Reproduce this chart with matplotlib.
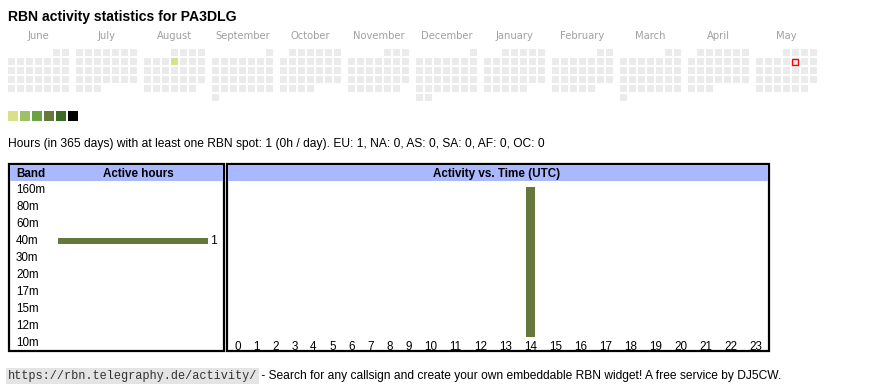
import datetime as dt
import calendar
import matplotlib
matplotlib.use('Agg')
import matplotlib.pyplot as plt
from matplotlib.patches import Rectangle

# data
callsign = 'PA3DLG'
months = [(2024, 6), (2024, 7), (2024, 8), (2024, 9), (2024, 10), (2024, 11),
          (2024, 12), (2025, 1), (2025, 2), (2025, 3), (2025, 4), (2025, 5)]
active_days = {dt.date(2024, 8, 8): 1}   # day -> level (1..6)
today = dt.date(2025, 5, 9)
level_colors = ['#ebebeb', '#d9e08a', '#9dc266', '#6aa343', '#67793a', '#3c6a27', '#000000']

bands = ['160m', '80m', '60m', '40m', '30m', '20m', '17m', '15m', '12m', '10m']
band_hours = [0, 0, 0, 1, 0, 0, 0, 0, 0, 0]
hours = [str(h) for h in range(24)]
hour_hours = [0] * 14 + [1] + [0] * 9

summary = 'Hours (in 365 days) with at least one RBN spot: 1 (0h / day). EU: 1, NA: 0, AS: 0, SA: 0, AF: 0, OC: 0'
footer_url = 'https://rbn.telegraphy.de/activity/'
footer_txt = ' - Search for any callsign and create your own embeddable RBN widget! A free service by DJ5CW.'

W, H = 870, 390
sans = 'Liberation Sans'
bar_color = '#65773a'
head_color = '#aab9ff'

fig = plt.figure(figsize=(W / 100, H / 100), dpi=100)
ax = fig.add_axes([0, 0, 1, 1])
ax.set_xlim(0, W)
ax.set_ylim(H, 0)
ax.axis('off')


def px_axes(x0, y0, x1, y1):
    a = fig.add_axes([x0 / W, 1 - y1 / H, (x1 - x0) / W, (y1 - y0) / H])
    a.patch.set_alpha(0)
    for s in a.spines.values():
        s.set_visible(False)
    return a


ax.text(8, 21, 'RBN activity statistics for ' + callsign, fontsize=10.1,
        fontweight='bold', family=sans, va='baseline')

# calendar
for k, (y, m) in enumerate(months):
    x0 = 8 + 68 * k
    ax.text(x0 + 30.5, 39, calendar.month_name[m], fontsize=7.2, color='#a0a0a0',
            ha='center', va='baseline', family='DejaVu Sans')
    first = dt.date(y, m, 1).weekday()
    for d in range(1, calendar.monthrange(y, m)[1] + 1):
        day = dt.date(y, m, d)
        col = day.weekday()
        row = (d + first - 1) // 7
        c = level_colors[active_days.get(day, 0)]
        ax.add_patch(Rectangle((x0 + 9 * col, 49 + 9 * row), 7, 7, facecolor=c, lw=0))
        if day == today:
            ax.add_patch(Rectangle((x0 + 9 * col + 0.5, 49 + 9 * row + 0.5), 6, 6,
                                   facecolor='none', edgecolor='red', lw=1))

for i, c in enumerate(level_colors[1:]):
    ax.add_patch(Rectangle((8 + 12 * i, 111), 10, 10, facecolor=c, lw=0))

ax.text(8, 147, summary, fontsize=8.64, family=sans, va='baseline')

# table frames
ax.add_patch(Rectangle((9, 164), 215, 187, facecolor='none', edgecolor='black', lw=1.6))
ax.add_patch(Rectangle((227, 164), 542, 187, facecolor='none', edgecolor='black', lw=1.6))
ax.add_patch(Rectangle((10, 165), 213, 16, facecolor=head_color, lw=0))
ax.add_patch(Rectangle((228, 165), 540, 16, facecolor=head_color, lw=0))
ax.text(16, 177, 'Band', fontsize=8.4, fontweight='bold', family=sans, va='baseline')
ax.text(138, 177, 'Active hours', fontsize=8.4, fontweight='bold', family=sans,
        va='baseline', ha='center')
ax.text(497, 177, 'Activity vs. Time (UTC)', fontsize=8.4, fontweight='bold',
        family=sans, va='baseline', ha='center')

# band bars
axb = px_axes(58, 181.5, 208, 351.5)
axb.barh(range(len(bands)), band_hours, height=0.38, color=bar_color)
axb.set_xlim(0, max(band_hours))
axb.set_ylim(len(bands) - 0.5, -0.5)
axb.set_xticks([])
axb.set_yticks(range(len(bands)), bands)
axb.tick_params(axis='y', length=0, pad=30.2, labelsize=8.4)
for lab in axb.get_yticklabels():
    lab.set_ha('left')
    lab.set_va('center')
    lab.set_family(sans)
for i, v in enumerate(band_hours):
    if v:
        axb.text(v, i, ' ' + str(v), va='center', ha='left', fontsize=8.4,
                 family=sans, clip_on=False)

# hour bars, column widths like an auto-sized html table
widths = [19 if len(h) == 1 else 25 for h in hours]
centers = []
pos = 0
for w in widths:
    centers.append(pos + w / 2)
    pos += w
axh = px_axes(228, 187, 228 + pos, 337)
axh.bar(centers, hour_hours, width=9, color=bar_color)
axh.set_xlim(0, pos)
axh.set_ylim(0, max(hour_hours))
axh.set_yticks([])
axh.set_xticks(centers, hours)
axh.tick_params(axis='x', length=0, pad=3, labelsize=8.4)
for lab in axh.get_xticklabels():
    lab.set_family(sans)

# footer
t = ax.text(8, 379, footer_url, fontsize=8.6, family='Liberation Mono',
            va='baseline', color='#333333',
            bbox=dict(facecolor='#e4e4e4', edgecolor='none', pad=1.2))
fig.canvas.draw()
bb = t.get_window_extent()
ax.text(9 + bb.width, 379, footer_txt, fontsize=8.68, family=sans, va='baseline')

fig.savefig('out.png', dpi=100)
